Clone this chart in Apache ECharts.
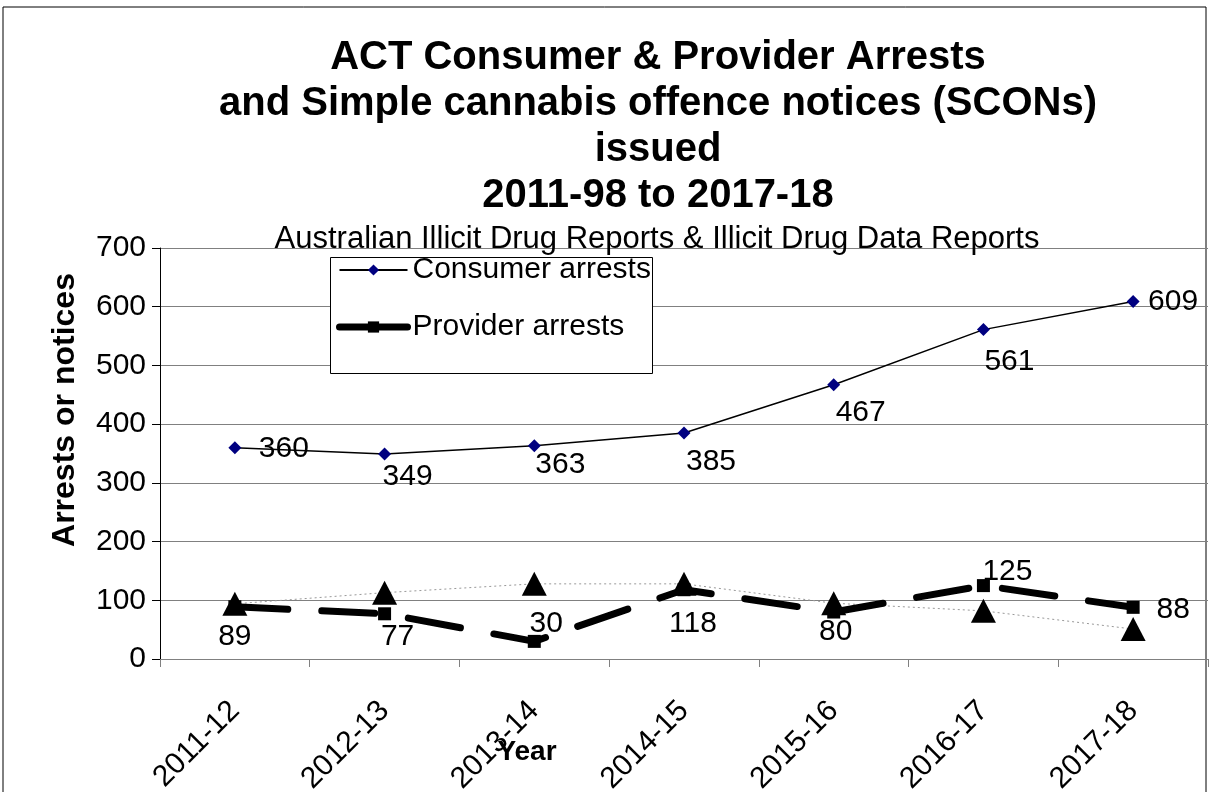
<!DOCTYPE html>
<html>
<head>
<meta charset="utf-8">
<script src="https://cdn.jsdelivr.net/npm/echarts@6/dist/echarts.min.js"></script>
<style>
html,body{margin:0;padding:0;background:#fff;}
#chart{width:1209px;height:792px;}
</style>
</head>
<body>
<div id="chart"></div>
<script>
// ---- data ----
const categories = ['2011-12','2012-13','2013-14','2014-15','2015-16','2016-17','2017-18'];
const consumerArrests = [360, 349, 363, 385, 467, 561, 609];
const providerArrests = [89, 77, 30, 118, 80, 125, 88];
const scons = [94, 113, 128, 128, 95, 82, 51];
const yTicks = [0, 100, 200, 300, 400, 500, 600, 700];

// label placement (pixel offsets from each point)
const consumerLabelOffsets = [[49,1],[23,23],[26,19],[27,29],[27,28],[26,32],[40,0]];
const providerLabelOffsets = [[0,30],[13,23],[12,-18],[9,34],[2,20],[24,-14],[40,2]];

const FONT = '"Liberation Sans", Arial, sans-serif';

const chart = echarts.init(document.getElementById('chart'), null, {renderer:'canvas'});

function withLabels(values, offsets){
  return values.map((v,i)=>({value:v, label:{offset:offsets[i]}}));
}

const option = {
  backgroundColor:'#fff',
  animation:false,
  textStyle:{fontFamily:FONT},
  title:[{
    text:'ACT Consumer & Provider Arrests\nand Simple cannabis offence notices (SCONs)\nissued\n2011-98 to 2017-18',
    left:653, top:30, textAlign:'center',
    textStyle:{fontFamily:FONT, fontSize:40, fontWeight:'bold', color:'#000', lineHeight:46}
  },{
    text:'Australian Illicit Drug Reports & Illicit Drug Data Reports',
    left:652, top:217, textAlign:'center',
    textStyle:{fontFamily:FONT, fontSize:31, fontWeight:'normal', color:'#000', lineHeight:34}
  }],
  graphic:[
    {type:'rect', shape:{x:3, y:7, width:1203, height:820}, style:{fill:'none', stroke:'#000', lineWidth:1}, z:-10, silent:true},
    {type:'rect', shape:{x:330.5, y:257.5, width:322, height:116}, style:{fill:'#fff', stroke:'#000', lineWidth:1}, z:3, silent:true},
    {type:'text', x:65, y:410, rotation:Math.PI/2, silent:true, z:5,
      style:{text:'Arrests or notices', fill:'#000', font:'bold 32px "Liberation Sans", Arial, sans-serif', textAlign:'center', textVerticalAlign:'middle'}},
    {type:'text', x:527, y:752, silent:true, z:5,
      style:{text:'Year', fill:'#000', font:'bold 28px "Liberation Sans", Arial, sans-serif', textAlign:'center', textVerticalAlign:'middle'}}
  ],
  legend:{
    orient:'vertical', left:336, top:255, padding:0,
    itemWidth:68, itemHeight:14, itemGap:27,
    textStyle:{fontFamily:FONT, fontSize:30, color:'#000', lineHeight:30},
    data:[
      {name:'Consumer arrests'},
      {name:'Provider arrests', lineStyle:{type:'solid', width:7}}
    ],
    z:5
  },
  grid:{left:160, right:1, top:248, bottom:133, containLabel:false, outerBoundsMode:'none'},
  xAxis:{
    type:'category', data:categories, boundaryGap:true,
    axisLine:{lineStyle:{color:'#808080', width:1}},
    axisTick:{show:true, alignWithLabel:false, length:8, lineStyle:{color:'#808080'}},
    axisLabel:{rotate:45, margin:47, fontFamily:FONT, fontSize:30, color:'#000', interval:0},
    splitLine:{show:false}
  },
  yAxis:{
    type:'value', min:yTicks[0], max:yTicks[yTicks.length-1], interval:100,
    axisLine:{show:true, lineStyle:{color:'#000', width:1}},
    axisTick:{show:true, length:8, lineStyle:{color:'#000'}},
    axisLabel:{margin:14, fontFamily:FONT, fontSize:30, color:'#000'},
    splitLine:{show:true, lineStyle:{color:'#808080', width:1}}
  },
  series:[
    {
      name:'SCONs', type:'line', data:scons,
      symbol:'triangle', symbolSize:[25,24],
      itemStyle:{color:'#000'},
      lineStyle:{color:'#999', width:1, type:[2,3]},
      label:{show:false}, z:2
    },
    {
      name:'Consumer arrests', type:'line', data:withLabels(consumerArrests, consumerLabelOffsets),
      symbol:'diamond', symbolSize:13,
      itemStyle:{color:'#000080'},
      lineStyle:{color:'#000', width:1.5},
      label:{show:true, position:'inside', align:'center', verticalAlign:'middle',
        fontFamily:FONT, fontSize:30, color:'#000'},
      z:3
    },
    {
      name:'Provider arrests', type:'line', data:withLabels(providerArrests, providerLabelOffsets),
      symbol:'rect', symbolSize:13,
      itemStyle:{color:'#000'},
      lineStyle:{color:'#000', width:7, type:[53,34], cap:'round'},
      label:{show:true, position:'inside', align:'center', verticalAlign:'middle',
        fontFamily:FONT, fontSize:30, color:'#000'},
      z:4
    }
  ]
};
chart.setOption(option);
</script>
</body>
</html>
